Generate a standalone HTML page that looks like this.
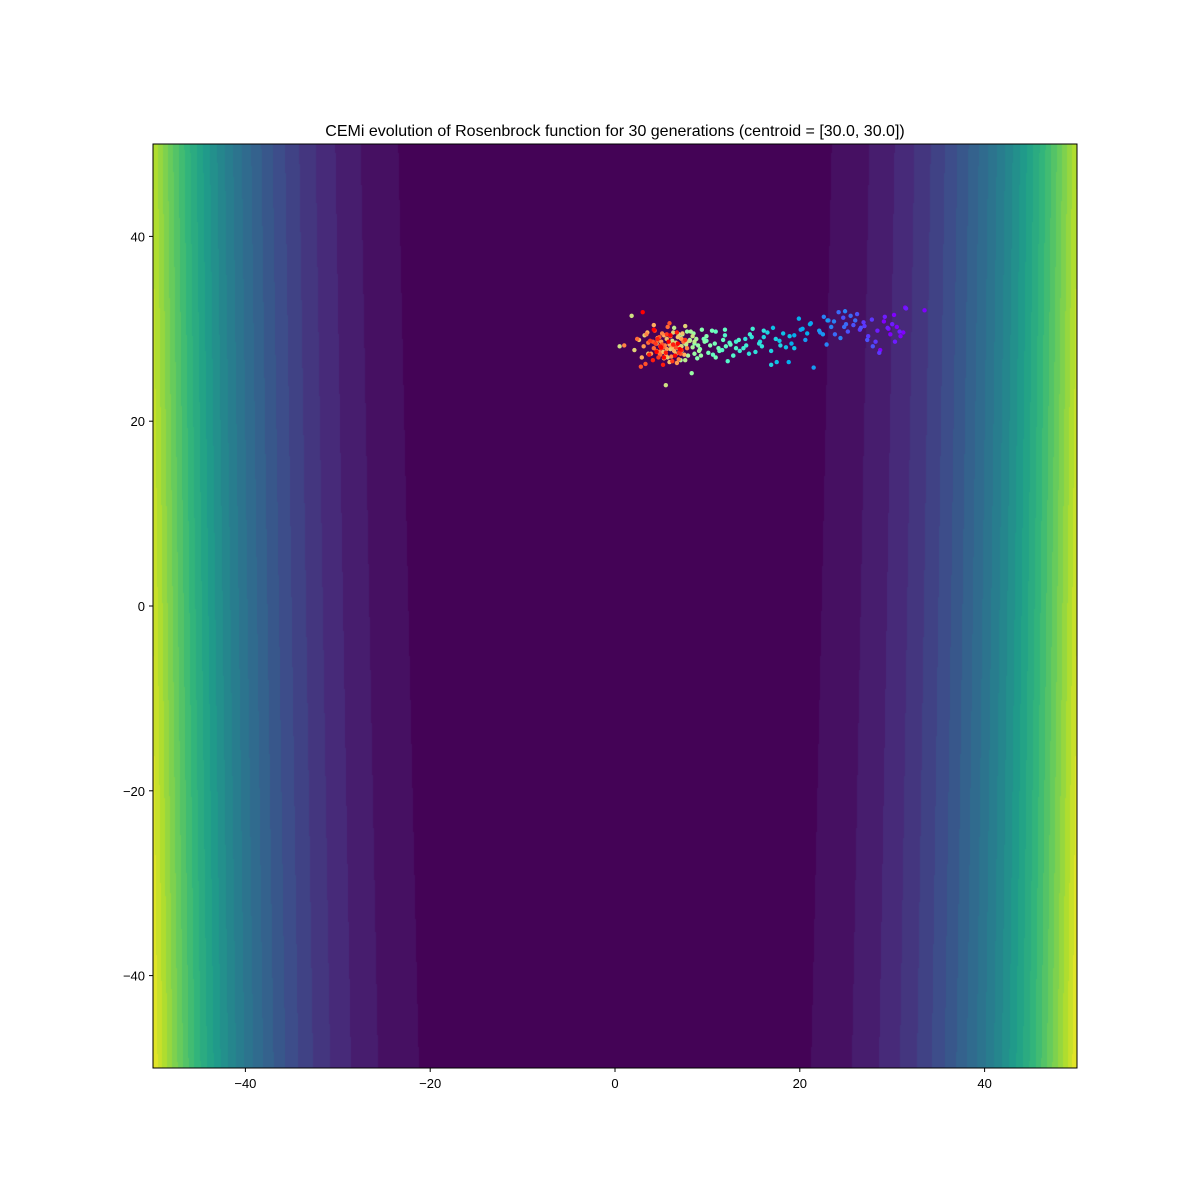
<!DOCTYPE html>
<html><head><meta charset="utf-8"><style>
body{margin:0;background:#fff;font-family:"Liberation Sans","DejaVu Sans",sans-serif}
#wrap{position:relative;width:1200px;height:1200px}
canvas{position:absolute;left:153px;top:144px}
svg{position:absolute;left:0;top:0}
</style></head><body>
<div id="wrap">
<canvas id="cv" width="924" height="924"></canvas>
<svg id="sv" width="1200" height="1200"></svg>
</div>
<script>
const xTicks=[-40,-20,0,20,40];
const yTicks=[-40,-20,0,20,40];
const levelStep=2.5e7;
const levelCount=26;
const pointsX=[
[30.5,29.1,31.2,29.8,33.5,30.2,29.6,30.9,31.4,28.7],
[30,28.4,31.5,29.2,30.8,29.5,30.3],
[27,28.2,26.5,27.8,28.6,27.4,26.9],
[26.6,25.2,27.3,24.7,26.2,25.8,27.9],
[25,23.8,24.2,26,24.8,25.5,23.1],
[23.4,22.6,24.4,22.9,23.7,24.9,22.2],
[22.1,21.2,20.6,23,21.5,22.5,20.1],
[20.3,19.4,19.9,18.8,20.8,19.1,21.1],
[18.9,17.8,19.4,17.1,18.2,18.5,17.5],
[17.4,16.5,16.9,15.7,16.9,16.1,17.9],
[15.6,14.8,15.2,14.1,16.1,14.5,15.9],
[14.2,13.5,14.6,13.1,13.9,14.9,12.8],
[13.1,12.4,12.8,11.9,12.2,13.4,11.6],
[12,11.3,11.7,10.9,12.5,10.6,11.9],
[10.8,10.1,10.5,9.9,11.2,9.6,10.9],
[9.7,9.2,9.9,8.9,10.3,9.4,8.6],
[9,8.5,8.6,8.1,8.3,9.3,7.8],
[8.4,7.9,8.2,7.5,8.8,7.3,9.1,7.1],
[7.7,7.1,7.6,7.2,8.1,6.8,8.6,6.4],
[7.2,6.6,6.9,6.2,5.5,7.8,0.5,1.8,8.4],
[6.6,6,6.3,5.7,7.1,4.8,3.2,2.1,7.6],
[6.2,5.6,5.9,5.2,6.8,4.5,3.6,7.3,2.6],
[5.9,5.3,5.5,4.9,3.5,6.4,7.5,4.2,2.9],
[5.6,5,5.3,4.6,6.2,3.9,7.2,3.1,6.7],
[5.4,4.8,5.1,4.4,1,6.1,7.8,3.4,6.9],
[5.2,4.6,4.9,4.2,6,3.6,7.4,5.7,2.4],
[5.1,4.5,4.8,4.1,2.8,6.6,7.1,3.3,5.9],
[5,4.4,4.7,5.6,6.9,3.8,6.2,7.6,4.3],
[4.9,5.5,4.6,6.3,4.1,7.2,6.7,5.2,3.7],
[5,5.8,4.5,3,6.5,6,5.3,7,4.2,6.8]
];
const pointsY=[
[30.2,30.8,29.6,29.4,32,31.5,30,29.2,32.3,27.7],
[30.5,29.8,32.2,31.3,29.7,30.1,28.6],
[30.3,28.6,29.9,31,27.4,29.2,30.7],
[30.1,29.7,28.8,31.2,31.6,30.4,28.1],
[30.5,29.4,31.8,30.9,30.2,31.4,30.9],
[30.2,31.3,29,28.3,30.8,31.9,29.6],
[29.8,30.6,28.8,30.9,25.8,29.4,29.9],
[30,29.3,31.1,26.4,29.5,28.4,30.5],
[29.2,28.7,27.9,30.1,29.5,28,26.4],
[28.9,29.6,27.6,28.6,26.1,29.1,28.2],
[28.4,29.1,27.5,28.9,29.8,27.3,28.1],
[28.2,27.6,29.4,28.6,27.9,30,27.1],
[27.9,28.5,27.1,29.3,26.5,28.8,27.7],
[28.1,27.6,28.8,29.7,28.3,27.2,29.9],
[28.4,27.4,29.8,28.7,27.9,28.9,26.9],
[28.6,27.8,29.2,26.8,28.2,29.9,28.4],
[28.2,29.5,27.3,28.8,25.2,27.1,29.7],
[28,27.1,29.7,28.5,28.9,29.4,27.6,26.6],
[28.3,29,26.6,27.6,28.7,27.9,28.6,30.1],
[28.1,27.3,29.4,28.7,23.9,28.6,28.1,31.4,29.2],
[28.5,27.8,29.6,26.9,28.1,27.4,29.3,27.7,30.3],
[28,28.9,26.4,27.5,29.1,28.4,27.3,29.5,28.8],
[28.3,29.3,27.1,28.1,29.6,27.6,27.2,30.4,26.9],
[27.8,28.6,26.8,29,28.2,27.3,28.9,28.1,26.3],
[28.2,27.5,29.5,28.4,28.2,27,27.9,29.4,26.7],
[28,28.8,27.2,27.9,29.2,28.5,28.6,30.2,28.9],
[28.3,27.6,29.1,28.6,25.9,28,27.3,26.2,30.6],
[27.9,28.4,26.9,29.4,27.4,28.7,26.5,28.8,29.8],
[28.1,27.4,28.9,28.3,26.6,27.7,29.6,26.1,27.2],
[28,28.6,27.5,31.8,27.1,29.3,26.9,27.8,29.9,28.4]
];
const X0=153,Y0=144,W=924,H=924;
const sx=v=>X0+(v+50)/100*W;
const sy=v=>Y0+(50-v)/100*H;
const vir=[[68,1,84],[72,40,120],[62,74,137],[49,104,142],[38,130,142],[31,158,137],[53,183,121],[109,205,89],[180,222,44],[253,231,37]];
function viridis(t){t=Math.max(0,Math.min(1,t));const p=t*(vir.length-1),i=Math.min(vir.length-2,Math.floor(p)),f=p-i;return vir[i].map((c,k)=>Math.round(c+(vir[i+1][k]-c)*f));}
function rainbow(t){const r=Math.min(1,Math.abs(2*t-0.5)),g=Math.sin(Math.PI*t),b=Math.cos(Math.PI*t/2);return `rgb(${Math.round(r*255)},${Math.round(g*255)},${Math.round(b*255)})`;}
const cv=document.getElementById('cv'),ctx=cv.getContext('2d');
const img=ctx.createImageData(W,H);
const cols=[];for(let i=0;i<levelCount;i++)cols.push(viridis(i/(levelCount)*0.99+0.005));
for(let py=0;py<H;py++){const y=50-(py+0.5)/H*100;for(let px=0;px<W;px++){const x=-50+(px+0.5)/W*100;const f=(1-x)**2+100*(y-x*x)**2;let li=Math.floor(f/levelStep);if(li>=levelCount)li=levelCount-1;const c=cols[li];const o=(py*W+px)*4;img.data[o]=c[0];img.data[o+1]=c[1];img.data[o+2]=c[2];img.data[o+3]=255;}}
ctx.putImageData(img,0,0);
const sv=document.getElementById('sv');const NS='http://www.w3.org/2000/svg';
function mk(t,a,txt){const e=document.createElementNS(NS,t);for(const k in a)e.setAttribute(k,a[k]);if(txt!==undefined)e.textContent=txt;sv.appendChild(e);return e;}
const G=pointsX.length;
for(let g=0;g<G;g++){for(let j=0;j<pointsX[g].length;j++){
const c=mk('circle',{cx:sx(pointsX[g][j]),cy:sy(pointsY[g][j]),r:2.2,fill:rainbow(g/(G-1))});


}}
const fr=mk('rect',{x:X0,y:Y0,width:W,height:H,fill:'none',stroke:'#000','stroke-width':1});


xTicks.forEach(v=>{const x=sx(v);
const l=mk('line',{x1:x,x2:x,y1:Y0+H,y2:Y0+H+4,stroke:'#000'});


const t=mk('text',{x:x,y:Y0+H+20,'text-anchor':'middle','font-size':13,fill:'#000'},v<0?'\u2212'+(-v):String(v));

});
yTicks.forEach(v=>{const y=sy(v);
const l=mk('line',{x1:X0-4,x2:X0,y1:y,y2:y,stroke:'#000'});


const t=mk('text',{x:X0-8,y:y+5,'text-anchor':'end','font-size':13,fill:'#000'},v<0?'\u2212'+(-v):String(v));

});
const ti=mk('text',{x:X0+W/2,y:136,'text-anchor':'middle','font-size':16,fill:'#000'},'CEMi evolution of Rosenbrock function for 30 generations (centroid = [30.0, 30.0])');


</script>
</body></html>
